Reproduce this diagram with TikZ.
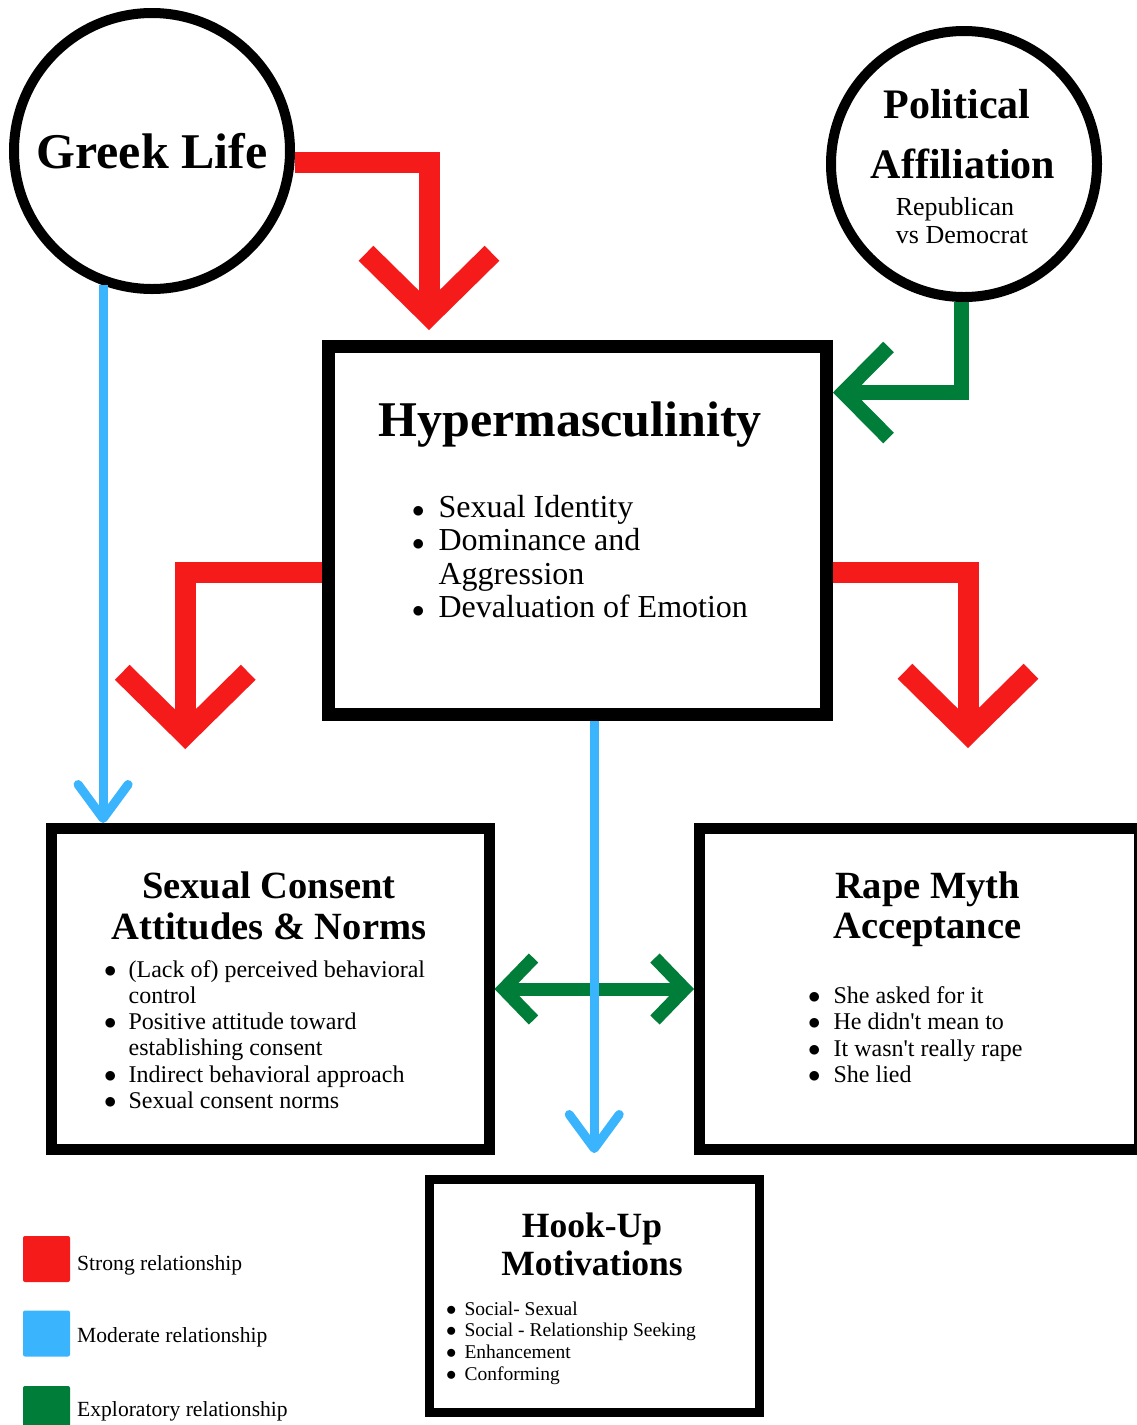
\documentclass[tikz,border=0pt]{standalone}
\usepackage{fontspec}
\setmainfont[Ligatures=TeXOff]{Liberation Serif}
\usetikzlibrary{positioning}
\usetikzlibrary{arrows.meta}

\definecolor{strongred}{RGB}{246,27,27}
\definecolor{modblue}{RGB}{58,180,252}
\definecolor{explgreen}{RGB}{0,125,56}
\newcommand{\fsz}[2]{\fontsize{#1}{#2}\selectfont}
\newcommand{\bul}{$\bullet$}

\tikzset{
  circ/.style={circle,draw,line width=10pt,minimum size=#1,inner sep=0pt},
  box/.style={rectangle,draw,line width=11pt,inner sep=0pt},
  title/.style 2 args={anchor=base,inner sep=0pt,font=\bfseries\fsz{#1}{#2}},
  strong/.style={draw=strongred,line width=21pt,line join=miter,-{Straight Barb[length=62pt,width=126pt]}},
  moderate/.style={draw=modblue,line width=9pt,-{Straight Barb[round,length=34pt,width=50pt]}},
  explor/.style={draw=explgreen,line width=15pt,line join=miter},
  swatch/.style={rectangle,rounded corners=2pt,minimum width=47pt,minimum height=46pt,inner sep=0pt},
  legtext/.style={anchor=base west,inner sep=0pt,font=\fsz{21.6}{26}}
}

\begin{document}
\begin{tikzpicture}[x=1pt,y=-1pt]
    \useasboundingbox (0,0) rectangle (1136,1425);
    %Circles
    \node[circ=276pt,font=\bfseries\fsz{50}{54}] (gl) at (152,151) {Greek Life};
    \node[circ=266pt] (pa) at (964,164) {};
    \node[title={42}{45}] (pa1) at (957,118) {Political};
    \node[title={42}{45}] (pa2) at (963,178) {Affiliation};
    \node[anchor=base,inner sep=0pt,font=\fsz{26}{28}] (pa3) at (955,215) {Republican};
    \node[anchor=base,inner sep=0pt,font=\fsz{26}{28}] (pa4) at (962,243) {vs Democrat};

    %Boxes
    \node[box,line width=13pt,minimum width=498pt,minimum height=368pt] (hm) at (577.5,530.5) {};
    \node[box,minimum width=437.5pt,minimum height=321pt] (sc) at (270.25,989) {};
    \node[box,minimum width=440pt,minimum height=321pt] (rm) at (919.5,989) {};
    \node[box,line width=9pt,minimum width=329.5pt,minimum height=233pt] (hu) at (594.25,1296) {};

    \node[title={50}{54}] (hmt) at (570,436) {Hypermasculinity};
    \node[anchor=base west,inner sep=0pt,font=\fsz{32}{33.5}] (hml) at (412,517) {\begin{tabular}[t]{@{}l@{\hspace{14pt}}l@{}}
        \bul & Sexual Identity\\
        \bul & Dominance and\\
             & Aggression\\
        \bul & Devaluation of Emotion\end{tabular}};

    \node[title={38.5}{41}] (sct) at (269,898) {\begin{tabular}[t]{@{}c@{}}Sexual Consent\\Attitudes \& Norms\end{tabular}};
    \node[anchor=base west,inner sep=0pt,font=\fsz{24}{26.3}] (scl) at (104,977) {\begin{tabular}[t]{@{}l@{\hspace{12pt}}l@{}}
        \bul & (Lack of) perceived behavioral\\
             & control\\
        \bul & Positive attitude toward\\
             & establishing consent\\
        \bul & Indirect behavioral approach\\
        \bul & Sexual consent norms\end{tabular}};

    \node[title={38.5}{40.5}] (rmt) at (927.5,898) {\begin{tabular}[t]{@{}c@{}}Rape Myth\\Acceptance\end{tabular}};
    \node[anchor=base west,inner sep=0pt,font=\fsz{24}{26.6}] (rml) at (808,1003) {\begin{tabular}[t]{@{}l@{\hspace{13pt}}l@{}}
        \bul & She asked for it\\
        \bul & He didn't mean to\\
        \bul & It wasn't really rape\\
        \bul & She lied\end{tabular}};

    \node[title={35.5}{38}] (hut) at (592,1237) {\begin{tabular}[t]{@{}c@{}}Hook-Up\\Motivations\end{tabular}};
    \node[anchor=base west,inner sep=0pt,font=\fsz{19.5}{21.7}] (hul) at (446,1315) {\begin{tabular}[t]{@{}l@{\hspace{8pt}}l@{}}
        \bul & Social- Sexual\\
        \bul & Social - Relationship Seeking\\
        \bul & Enhancement\\
        \bul & Conforming\end{tabular}};

    %Strong links
    \draw[strong] ([yshift=-11pt]gl.east) -| ([xshift=-148.5pt,yshift=10pt]hm.north);
    \draw[strong] ([yshift=-42pt]hm.west) -| ([xshift=-85pt,yshift=74pt]sc.north);
    \draw[strong] ([yshift=-42pt]hm.east) -| ([xshift=48.5pt,yshift=75pt]rm.north);
    %Exploratory links
    \draw[explor,-{Straight Barb[length=45pt,width=91pt]}] ([xshift=-3pt]pa.south) |- ([yshift=138pt]hm.east);
    \draw[explor,line width=13pt,{Straight Barb[length=30pt,width=62pt]}-{Straight Barb[length=30pt,width=62pt]}] (sc.east) -- (rm.west);
    %Moderate links
    \draw[moderate] (gl.250) -- (gl.250 |- sc.north);
    \draw[moderate] (hm.south -| hu.north) -- ([yshift=22pt]hu.north);

    %Legend
    \node[swatch,fill=strongred] (lg1) at (46.5,1259) {};
    \node[swatch,fill=modblue] (lg2) at (46.5,1333.5) {};
    \node[swatch,fill=explgreen] (lg3) at (46.5,1409) {};
    \node[legtext] (lt1) at (77,1270) {Strong relationship};
    \node[legtext] (lt2) at (77,1342) {Moderate relationship};
    \node[legtext] (lt3) at (77,1416) {Exploratory relationship};
\end{tikzpicture}
\end{document}
